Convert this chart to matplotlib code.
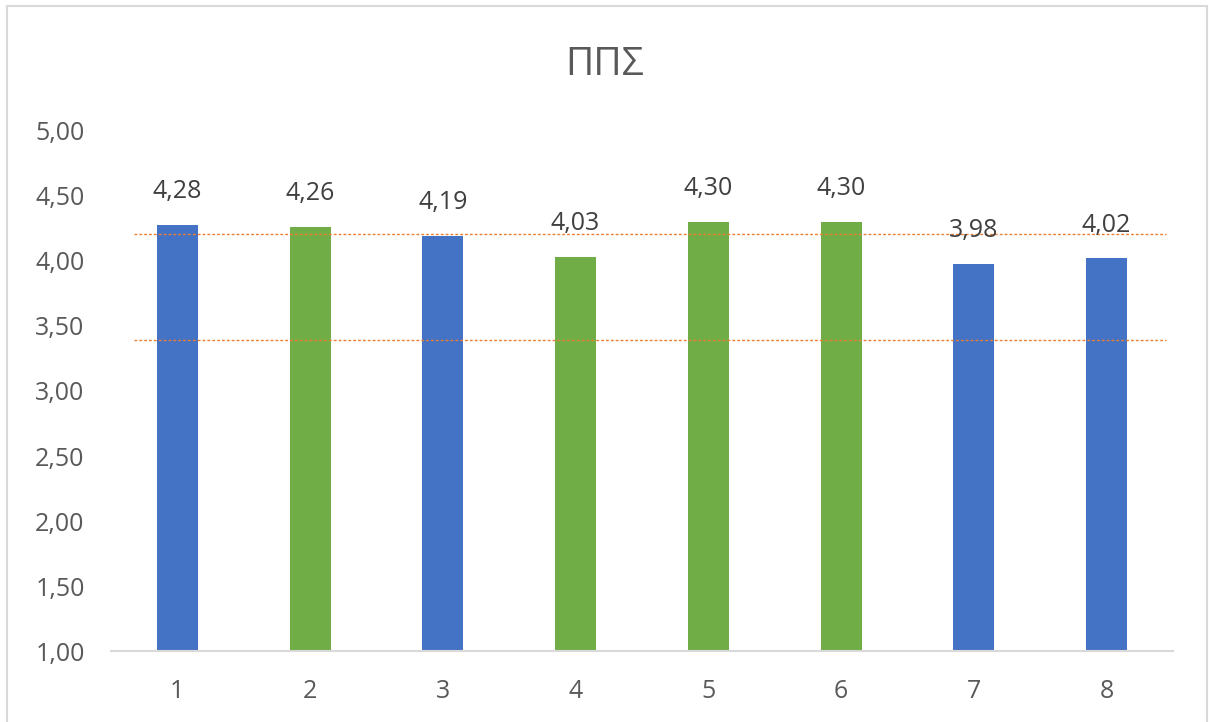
"""
ΠΠΣ bar chart with two reference lines.
"""
import matplotlib
matplotlib.use("Agg")
from matplotlib import pyplot as plt
from matplotlib.patches import Rectangle
from matplotlib.ticker import FuncFormatter

# Data
categories = [1, 2, 3, 4, 5, 6, 7, 8]
values = [4.28, 4.26, 4.19, 4.03, 4.30, 4.30, 3.98, 4.02]
groups = ["a", "b", "a", "b", "b", "b", "a", "a"]
ref_lines = [4.21, 3.39]
title = "ΠΠΣ"

colors = {"a": "#4472C4", "b": "#70AD47"}
text_color = "#595959"

plt.rcParams["font.family"] = ["Open Sans", "DejaVu Sans"]

fig = plt.figure(figsize=(12.09, 7.22), dpi=100)
ax = fig.add_axes([0.0918, 0.0983, 0.8784, 0.7203])

bars = ax.bar(categories, values, width=0.31, bottom=0,
              color=[colors[g] for g in groups], zorder=2)

for x, v in zip(categories, values):
    ax.annotate(f"{v:.2f}".replace(".", ","), (x, v), xytext=(0, 15),
                textcoords="offset points", ha="center", va="bottom",
                fontsize=18, color="#404040", zorder=4)

for y in ref_lines:
    ax.hlines(y, 0.67, 8.45, colors="#ED7D31", linestyles=(0, (2, 1.5)),
              linewidth=1.0, zorder=3)

ax.set_xlim(0.5, 8.5)
ax.set_ylim(1.0, 5.0)
ax.set_yticks([1.0 + 0.5 * i for i in range(9)])
ax.yaxis.set_major_formatter(FuncFormatter(lambda v, p: f"{v:.2f}".replace(".", ",")))
ax.set_xticks(categories)
ax.tick_params(axis="both", length=0, labelsize=18, labelcolor=text_color)
ax.tick_params(axis="y", pad=19)
ax.tick_params(axis="x", pad=20)

for side in ["top", "right", "left"]:
    ax.spines[side].set_visible(False)
ax.spines["bottom"].set_color("#D9D9D9")
ax.spines["bottom"].set_linewidth(1.5)

fig.text(0.5, 0.91, title, ha="center", va="center", fontsize=28, color=text_color)

# light frame around the chart
fig.patches.append(Rectangle((7 / 1209, -0.01), 1200 / 1209, 1 - 6 / 722 + 0.01,
                             transform=fig.transFigure, fill=False,
                             edgecolor="#D9D9D9", linewidth=1.5))

fig.savefig("out.png", dpi=100)
